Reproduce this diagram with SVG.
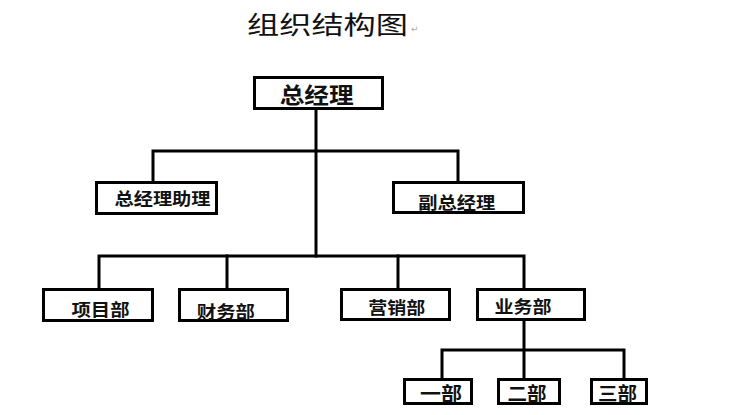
<svg xmlns="http://www.w3.org/2000/svg" width="733" height="415" viewBox="0 0 733 415">
<style>
.box{fill:#fff;stroke:#000;stroke-width:3}
.ln{fill:none;stroke:#000;stroke-width:3;stroke-linecap:square}
.t{font-family:"Noto Sans CJK SC","Noto Sans",sans-serif;font-weight:bold;fill:#111;text-anchor:middle;dominant-baseline:central}
.title{font-family:"Noto Sans CJK SC","Noto Sans",sans-serif;font-size:25px;fill:#111;dominant-baseline:central}
</style>
<rect width="733" height="415" fill="#fff"/>
<g id="title">
<text class="title" x="247" y="22.5" textLength="161" lengthAdjust="spacingAndGlyphs">组织结构图</text>
<text x="411" y="29" font-family="DejaVu Sans,sans-serif" font-size="9" fill="#aaa" dominant-baseline="central">↵</text>
</g>
<g id="connectors">
<path class="ln" d="M316 110V256"/>
<path class="ln" d="M153 181V151H458V181"/>
<path class="ln" d="M99 288V256H524V288"/>
<path class="ln" d="M227 256V288"/>
<path class="ln" d="M398 256V288"/>
<path class="ln" d="M524 321V378"/>
<path class="ln" d="M442 378V350H624V378"/>
</g>
<g id="n-gm"><rect class="box" x="254.5" y="77.5" width="128" height="31"/><text class="t" x="316.7" y="93" font-size="22" textLength="74" lengthAdjust="spacingAndGlyphs">总经理</text></g>
<g id="n-assist"><rect class="box" x="96.5" y="182.5" width="120" height="31"/><text class="t" x="162.5" y="197" font-size="17" textLength="96" lengthAdjust="spacingAndGlyphs">总经理助理</text></g>
<g id="n-vgm"><rect class="box" x="393.5" y="182.5" width="130" height="30"/><text class="t" x="456.7" y="201.5" font-size="17" textLength="77" lengthAdjust="spacingAndGlyphs">副总经理</text></g>
<g id="n-proj"><rect class="box" x="43.5" y="289.5" width="109" height="31"/><text class="t" x="100.5" y="308" font-size="17" textLength="58" lengthAdjust="spacingAndGlyphs">项目部</text></g>
<g id="n-fin"><rect class="box" x="179.5" y="289.5" width="108" height="31"/><text class="t" x="225.8" y="310" font-size="17" textLength="58" lengthAdjust="spacingAndGlyphs">财务部</text></g>
<g id="n-mkt"><rect class="box" x="341.5" y="289.5" width="108" height="30"/><text class="t" x="396.7" y="306.7" font-size="17" textLength="57" lengthAdjust="spacingAndGlyphs">营销部</text></g>
<g id="n-biz"><rect class="box" x="477.5" y="289.5" width="107" height="30"/><text class="t" x="523" y="305" font-size="17" textLength="57" lengthAdjust="spacingAndGlyphs">业务部</text></g>
<g id="n-d1"><rect class="box" x="404.5" y="379.5" width="67" height="24"/><text class="t" x="441" y="392" font-size="19" textLength="42" lengthAdjust="spacingAndGlyphs">一部</text></g>
<g id="n-d2"><rect class="box" x="498.5" y="379.5" width="61" height="24"/><text class="t" x="527" y="392" font-size="19" textLength="39" lengthAdjust="spacingAndGlyphs">二部</text></g>
<g id="n-d3"><rect class="box" x="591.5" y="379.5" width="55" height="24"/><text class="t" x="617.5" y="392" font-size="19" textLength="39" lengthAdjust="spacingAndGlyphs">三部</text></g>
</svg>
